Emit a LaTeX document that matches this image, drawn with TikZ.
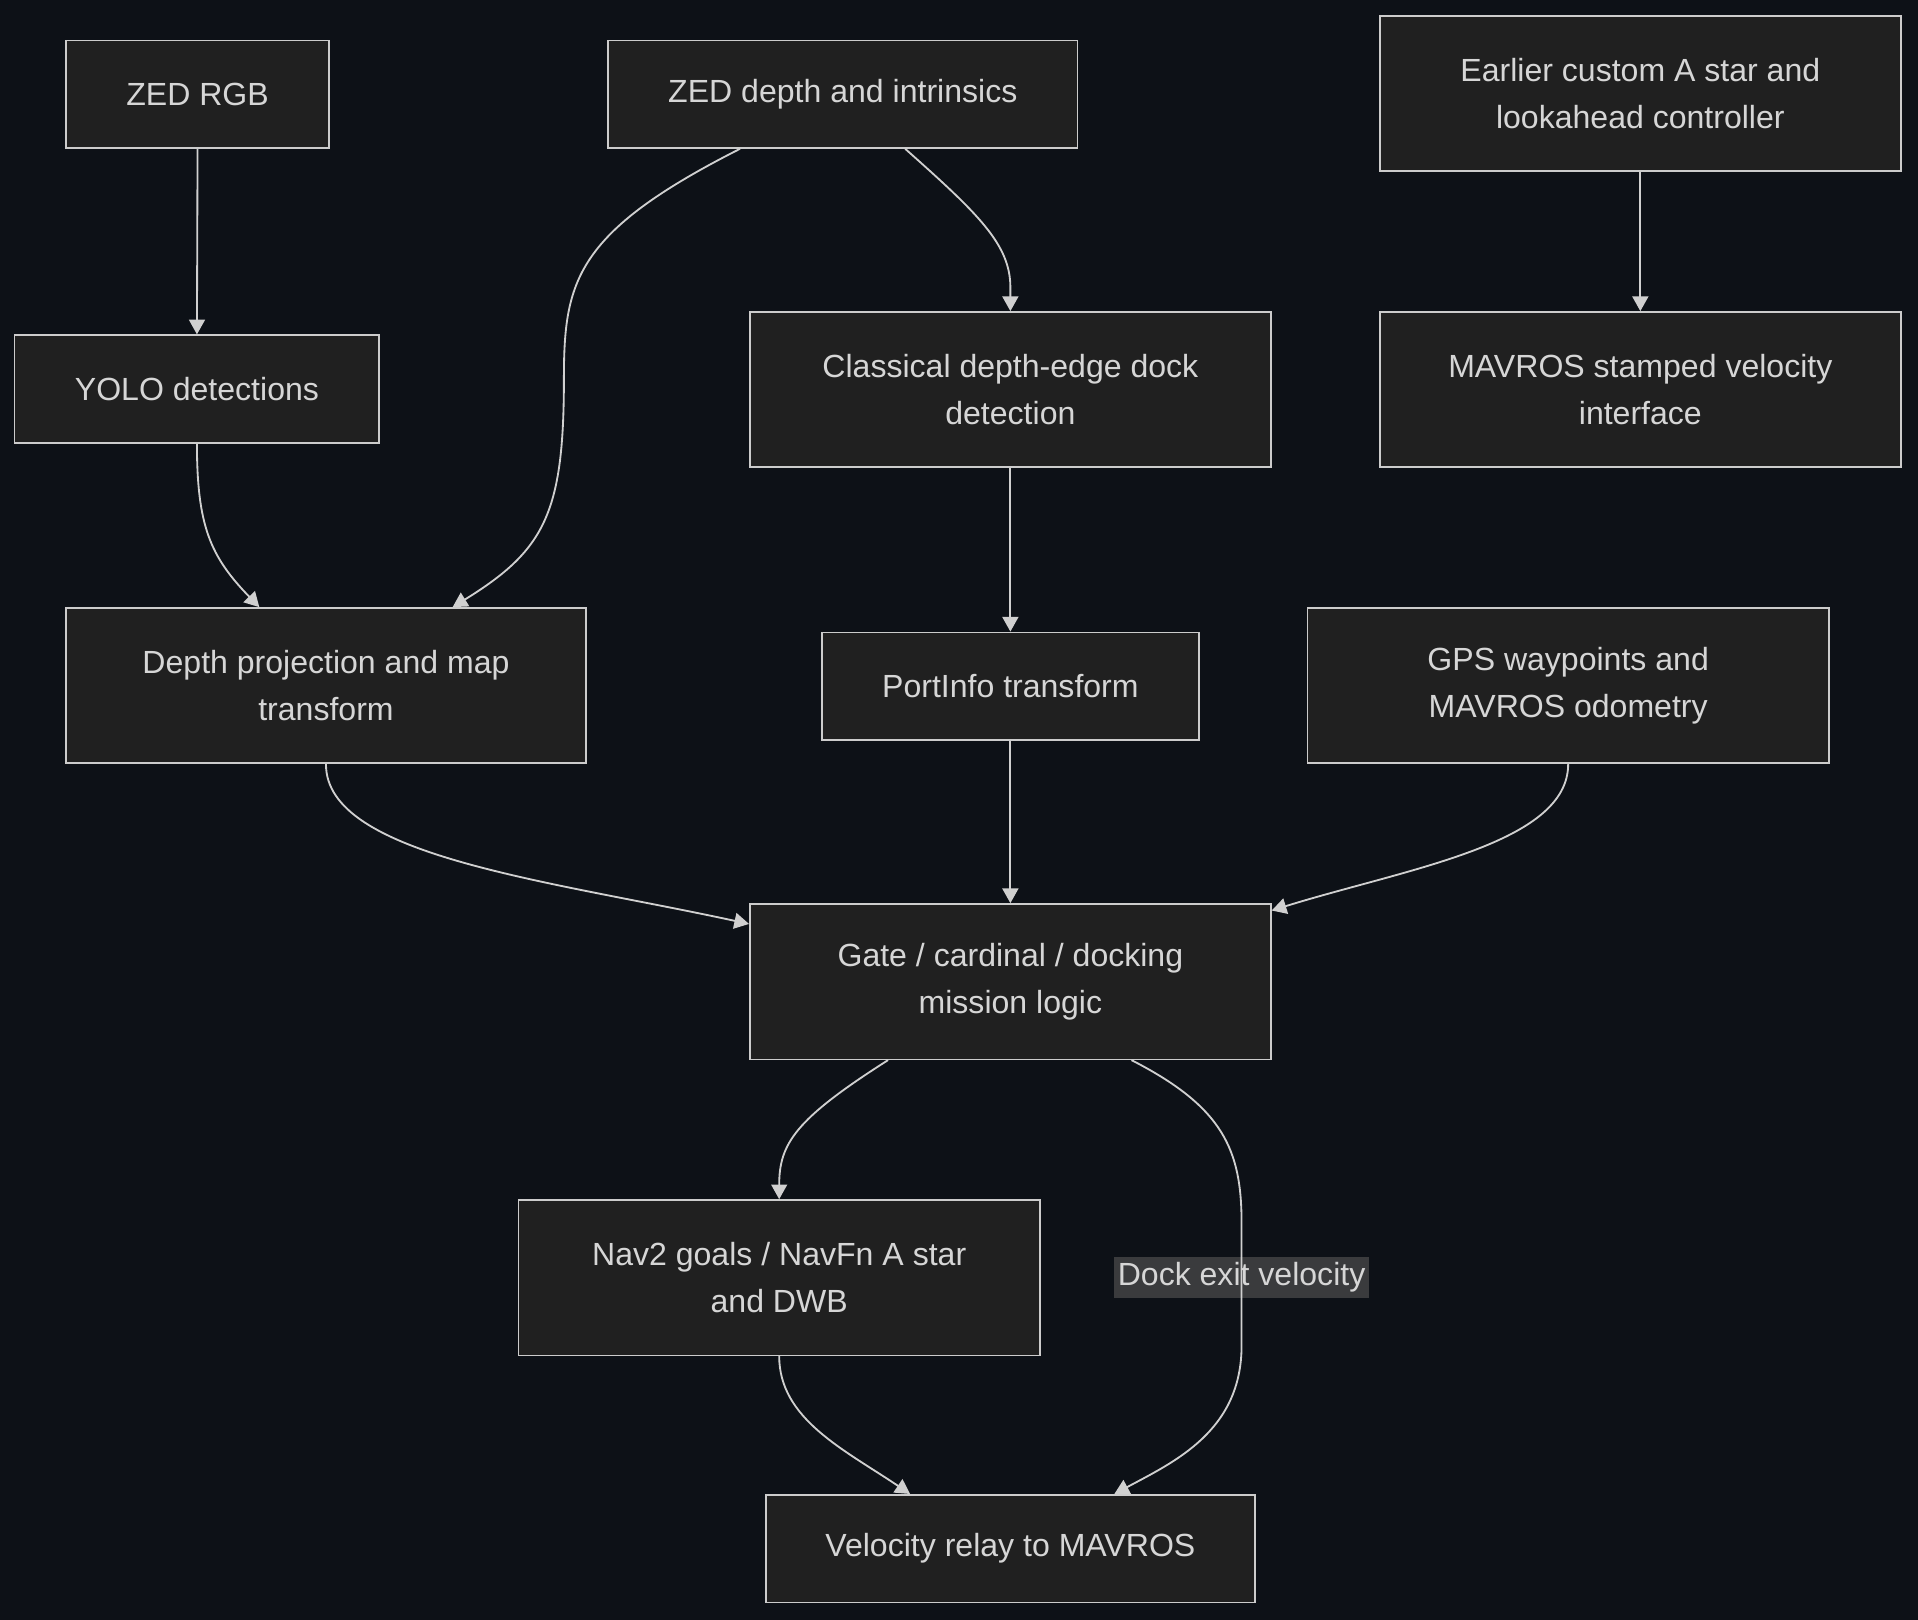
\documentclass[tikz,border=0pt]{standalone}
\usepackage{fontspec}
\setmainfont{Liberation Sans}
\usetikzlibrary{arrows.meta}
\definecolor{bgc}{HTML}{0D1117}
\definecolor{boxfill}{HTML}{202020}
\definecolor{boxline}{HTML}{CCCCCC}
\definecolor{txtc}{HTML}{D6D6D6}
\definecolor{edgec}{HTML}{D0D0D0}
\definecolor{lblfill}{HTML}{3A3B3D}
\tikzset{
  box/.style={draw=boxline, fill=boxfill, line width=1.3pt, text=txtc, align=center,
    inner sep=0pt, font=\fontsize{26.2}{39}\selectfont},
  conn/.style={draw=edgec, line width=1.5pt, -{Triangle[length=12pt,width=13pt]}},
  lbl/.style={fill=lblfill, text=txtc, inner xsep=3pt, inner ysep=0pt, minimum height=33pt,
    font=\fontsize{26.2}{39}\selectfont}
}
\begin{document}
\begin{tikzpicture}[x=1pt,y=-1pt]
\fill[bgc] (0,0) rectangle (1568,1324);
\useasboundingbox (0,0) rectangle (1568,1324);

\node[box, minimum width=215pt, minimum height=88pt] (zrgb) at (161.5,77) {ZED RGB};
\node[box, minimum width=384pt, minimum height=88pt] (zdepth) at (689,77) {ZED depth and intrinsics};
\node[box, minimum width=426pt, minimum height=127pt] (astar) at (1341,76.5) {Earlier custom A star and\\lookahead controller};
\node[box, minimum width=298pt, minimum height=88pt] (yolo) at (161,318) {YOLO detections};
\node[box, minimum width=426pt, minimum height=127pt] (classic) at (826,318.5) {Classical depth-edge dock\\detection};
\node[box, minimum width=426pt, minimum height=127pt] (mavvel) at (1341,318.5) {MAVROS stamped velocity\\interface};
\node[box, minimum width=425pt, minimum height=127pt] (dproj) at (266.5,560.5) {Depth projection and map\\transform};
\node[box, minimum width=308pt, minimum height=88pt] (port) at (826,561) {PortInfo transform};
\node[box, minimum width=426pt, minimum height=127pt] (gps) at (1282,560.5) {GPS waypoints and\\MAVROS odometry\vphantom{p}};
\node[box, minimum width=426pt, minimum height=127pt] (gate) at (826,802.5) {Gate / cardinal / docking\\mission logic};
\node[box, minimum width=426pt, minimum height=127pt] (nav2) at (637,1044.5) {Nav2 goals / NavFn A star\\and DWB};
\node[box, minimum width=400pt, minimum height=88pt] (relay) at (826,1266) {Velocity relay to MAVROS};

\node[lbl] (dockl) at (1015,1044.5) {\raisebox{-2pt}{Dock exit velocity}};

\draw[conn] (zrgb.south) -- (yolo.north);
\draw[conn] ([xshift=-84pt]zdepth.south) .. controls (470,190) and (461,230) .. (461,310)
  .. controls (461,420) and (445,450) .. ([xshift=103.5pt]dproj.north);
\draw[conn] ([xshift=51pt]zdepth.south) .. controls (800,175) and (826,200) .. (826,235) -- (classic.north);
\draw[conn] (astar.south) -- (mavvel.north);
\draw[conn] (yolo.south) .. controls (161,430) and (172,455) .. ([xshift=-54.5pt]dproj.north);
\draw[conn] (classic.south) -- (port.north);
\draw[conn] (dproj.south) .. controls (266,700) and (450,720) .. ([yshift=-17pt]gate.north west);
\draw[conn] (port.south) -- (gate.north);
\draw[conn] (gps.south) .. controls (1282,690) and (1150,710) .. ([yshift=-6pt]gate.north east);
\draw[conn] ([xshift=-100pt]gate.south) .. controls (650,915) and (637,935) .. (nav2.north);
\draw[conn] ([xshift=99pt]gate.south) .. controls (1000,905) and (1015,940) .. (1015,1000)
  -- (1015,1100) .. controls (1015,1170) and (960,1195) .. ([xshift=85pt]relay.north);
\draw[conn] (nav2.south) .. controls (637,1160) and (690,1185) .. ([xshift=-82pt]relay.north);
\end{tikzpicture}
\end{document}
